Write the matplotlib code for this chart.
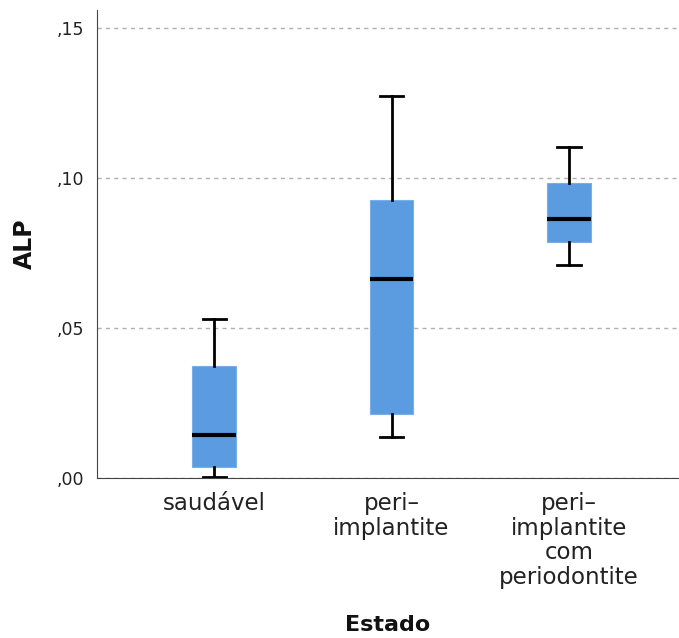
import matplotlib
matplotlib.use("Agg")
import matplotlib.pyplot as plt
from matplotlib.ticker import FuncFormatter

categories = ["saudável", "peri–\nimplantite", "peri–\nimplantite\ncom\nperiodontite"]
whislo = [0.0003, 0.0137, 0.0710]
q1 = [0.0037, 0.0213, 0.0787]
med = [0.0143, 0.0663, 0.0863]
q3 = [0.0373, 0.0927, 0.0983]
whishi = [0.0530, 0.1273, 0.1103]
yticks = [0.00, 0.05, 0.10, 0.15]

W, H = 679, 638
fig = plt.figure(figsize=(W / 100, H / 100), dpi=100)
ax = fig.add_axes([97 / W, (H - 478) / H, (679 - 97) / W, (478 - 10) / H])

stats = []
for i, c in enumerate(categories):
    stats.append(dict(label=c, whislo=whislo[i], q1=q1[i], med=med[i], q3=q3[i], whishi=whishi[i], fliers=[]))

positions = [1, 2, 3]
ax.bxp(stats, positions=positions, widths=0.245, patch_artist=True, showfliers=False,
       boxprops=dict(facecolor="#5b9be0", edgecolor="#7aaee6", linewidth=0.8),
       medianprops=dict(color="black", linewidth=3),
       whiskerprops=dict(color="black", linewidth=2),
       capprops=dict(color="black", linewidth=2),
       capwidths=0.13, zorder=3)

ax.set_xlim(0.34, 3.62)
ax.set_ylim(0, 0.156)
ax.set_yticks(yticks)
ax.yaxis.set_major_formatter(FuncFormatter(lambda v, p: ("%.2f" % v)[1:].replace(".", ",")))
ax.grid(axis="y", linestyle=(0, (3, 3)), color="#b0b0b0", linewidth=1, zorder=0)
ax.set_axisbelow(True)
for s in ["top", "right"]:
    ax.spines[s].set_visible(False)
ax.spines["left"].set_color("#444444")
ax.spines["bottom"].set_color("#444444")
ax.tick_params(axis="y", length=0, labelsize=12.5, pad=9, labelcolor="#222222")
ax.tick_params(axis="x", length=0, labelsize=16.5, pad=10, labelcolor="#222222")
ax.set_xticks(positions)
ax.set_xticklabels(categories, linespacing=1.1)

ax.set_ylabel("ALP", fontsize=17, fontweight="bold", labelpad=18, color="#111111")
ax.set_xlabel("Estado", fontsize=16, fontweight="bold", labelpad=14, color="#111111")
ax.xaxis.set_label_coords(0.5, -(625 - 478) / 468, transform=ax.transAxes)
ax.yaxis.set_label_coords(-(97 - 25) / 582, 0.5, transform=ax.transAxes)
ax.xaxis.label.set_va("center")
ax.yaxis.label.set_va("center")
fig.savefig("out.png", dpi=100)
